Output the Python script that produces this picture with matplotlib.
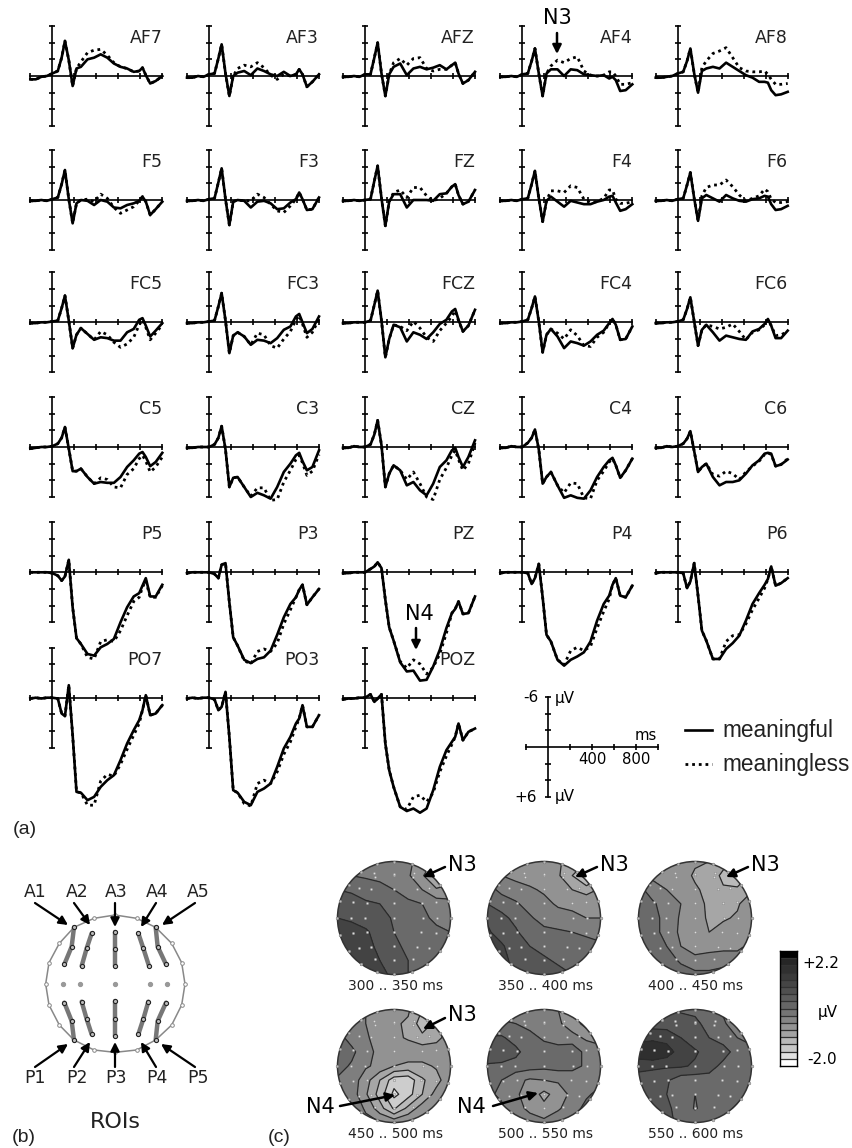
import numpy as np
import matplotlib
matplotlib.use("Agg")
import matplotlib.pyplot as plt
from matplotlib.patches import Circle

# time points (ms) shared by all the ERP curves, values in microvolt (negative up)
times = [-200,-150,-100,-50,0,50,85,115,150,185,220,260,320,380,440,500,560,620,680,740,790,820,850,890,940,1000]

AF7_m = [.4,.4,.1,0,-.3,-.6,-2.2,-4.2,-1.9,1.2,-.9,-1.1,-2.0,-2.2,-2.6,-2.2,-1.5,-1.1,-.9,-.5,-.6,-1.0,-.1,.9,.6,0]
AF7_n = [.4,.4,.1,0,-.3,-.6,-2.2,-4.2,-1.9,1.2,-.9,-1.7,-2.8,-3.1,-3.2,-2.5,-1.6,-1.1,-.9,-.5,-.6,-1.0,-.1,.9,.6,0]
AF3_m = [.2,.2,0,.1,-.2,-.3,-2.1,-3.8,-.3,2.4,0,-.4,-.6,-.1,-.9,-.6,-.2,0,-.5,0,-.2,-.8,-.2,1.3,.7,-.2]
AF3_n = [.2,.2,0,.1,-.2,-.3,-2.1,-3.8,-.3,2.4,0,-.9,-1.3,-1.1,-1.6,-1.0,-.1,.4,-.2,0,-.2,-.8,-.2,1.3,.7,-.2]
AFZ_m = [.1,.1,0,.1,-.2,-.2,-2.2,-4.0,-.3,2.4,-.2,-1.1,-1.5,-.1,-.9,-1.1,-.8,-1.0,-1.3,-.8,-1.3,-1.6,-.3,.9,.5,-.5]
AFZ_n = [.1,.1,0,.1,-.2,-.2,-2.2,-4.0,-.3,2.4,-.2,-1.6,-2.1,-1.3,-2.1,-2.2,-.9,-.6,-.8,-.8,-1.3,-1.6,-.3,.9,.5,-.5]
AF4_m = [.1,.1,0,.1,-.2,-.3,-1.8,-3.3,-.3,2.4,-.3,-.8,-.8,0,-.8,-.7,-.2,-.1,0,-.1,.3,.1,.5,1.8,1.7,1.0]
AF4_n = [.1,.1,0,.1,-.2,-.3,-1.8,-3.3,-.3,2.4,-.3,-1.2,-1.9,-1.6,-2.1,-2.3,-.6,-.1,0,-.1,-.5,-.5,0,1.0,1.0,.8]
AF8_m = [.2,.2,.1,0,-.3,-.5,-1.8,-3.3,-.3,2.0,-.6,-.9,-1.1,-.9,-1.6,-1.1,-.6,-.1,.2,.7,.7,.8,1.7,2.3,2.2,1.9]
AF8_n = [.2,.2,.1,0,-.3,-.5,-1.8,-3.3,-.3,2.0,-1.0,-1.8,-2.7,-3.0,-3.4,-2.2,-1.0,-.6,-.5,-.5,-.6,-.2,.4,1.0,1.0,.9]

F5_m = [.1,.1,0,.1,-.1,-.3,-1.9,-3.6,-.1,2.8,.4,0,.1,.6,0,.2,.9,1.0,.6,.4,.1,-.4,.2,1.8,1.1,.2]
F5_n = [.1,.1,0,.1,-.1,-.3,-1.9,-3.6,-.1,2.8,.4,0,-.1,.2,-.7,-.2,.9,1.6,1.2,.8,.1,-.4,.2,1.8,1.1,.2]
F3_m = [.1,.1,0,.1,-.1,-.2,-2.1,-3.8,-.1,3.0,.2,0,.1,.9,.2,.1,.4,1.1,1.0,.3,-.1,-.9,-.1,1.2,1.1,-.3]
F3_n = [.1,.1,0,.1,-.1,-.2,-2.1,-3.8,-.1,3.0,.2,0,.1,.1,-.7,-.3,.5,1.3,1.5,.7,-.1,-.9,-.1,1.2,1.1,-.3]
FZ_m = [.1,.1,0,.1,0,-.1,-2.3,-4.1,-.2,3.1,.2,-.7,-.7,.9,0,0,0,.1,-.7,-.8,-1.6,-1.9,-.6,.5,.2,-1.2]
FZ_n = [.1,.1,0,.1,0,-.1,-2.3,-4.1,-.2,3.1,.2,-.9,-1.2,-.3,-1.5,-1.5,-.5,.1,-.2,-.8,-1.6,-1.9,-.6,.5,.2,-1.2]
F4_m = [.1,.1,0,.1,-.1,-.2,-1.9,-3.5,-.2,2.6,.1,-.4,.2,.8,.1,.3,.5,.5,.2,0,-.4,-.5,.3,1.3,1.1,.5]
F4_n = [.1,.1,0,.1,-.1,-.2,-1.9,-3.5,-.2,2.6,.1,-1.1,-1.1,-.9,-1.7,-1.5,-.1,.3,.2,-.2,-1.2,-1.2,-.1,.4,.4,.2]
F6_m = [.1,.1,0,.1,-.1,-.2,-1.8,-3.3,-.2,2.5,-.2,-.6,-.2,.2,-.6,-.2,.1,.2,-.1,-.2,-.5,-.4,.5,1.2,1.1,.7]
F6_n = [.1,.1,0,.1,-.1,-.2,-1.8,-3.3,-.2,2.5,-.5,-1.5,-1.8,-1.8,-2.4,-1.6,-.6,.1,-.2,-.5,-1.3,-1.0,-.1,.3,.3,.2]

FC5_m = [.1,.1,0,0,-.1,-.2,-1.7,-3.2,-.2,3.1,1.5,.7,1.4,2.1,1.8,1.9,2.2,2.2,1.2,.8,-.3,-.5,.4,1.7,1.0,.1]
FC5_n = [.1,.1,0,0,-.1,-.2,-1.7,-3.2,-.2,3.1,1.5,.7,1.4,2.1,1.1,1.5,2.4,3.0,2.6,1.8,.3,-.3,.6,2.1,1.3,.3]
FC3_m = [.1,.1,0,0,-.1,-.2,-1.9,-3.5,-.2,3.7,1.6,1.2,1.7,2.7,2.1,2.2,2.5,1.9,.9,.5,-.7,-1.0,0,1.3,.8,-.7]
FC3_n = [.1,.1,0,0,-.1,-.2,-1.9,-3.5,-.2,3.7,1.6,1.2,1.7,2.7,1.3,1.5,2.8,3.1,2.0,1.1,-.3,-.8,.2,1.8,1.2,-.4]
FCZ_m = [.1,.1,0,0,0,-.2,-2.1,-3.8,-.2,4.2,2.0,.3,.6,2.3,1.2,1.5,2.0,1.2,.2,-.3,-1.3,-1.6,-.3,1.1,.4,-1.5]
FCZ_n = [.1,.1,0,0,0,-.2,-2.1,-3.8,-.2,4.2,2.0,.3,.5,1.0,-.1,.7,1.8,2.3,1.0,.1,-.7,-1.4,-.2,1.1,.4,-1.5]
FC4_m = [.1,.1,0,0,-.1,-.3,-1.7,-3.1,-.1,3.6,1.5,.8,1.7,3.1,2.3,2.5,2.8,2.3,1.5,1.0,.1,-.4,.3,2.1,2.0,.5]
FC4_n = [.1,.1,0,0,-.1,-.3,-1.7,-3.1,-.1,3.6,1.5,.8,1.3,2.0,.9,1.6,2.8,2.9,1.8,1.2,.1,-.4,.3,2.1,2.0,.5]
FC6_m = [.1,.1,0,0,-.1,-.3,-1.6,-3.0,-.1,2.8,.9,.3,1.2,2.2,1.6,1.8,2.0,2.1,1.1,.8,.2,-.4,.4,1.9,1.9,1.0]
FC6_n = [.1,.1,0,0,-.1,-.3,-1.6,-3.0,-.1,2.8,.9,.3,.5,.8,.6,.2,1.1,2.1,1.2,.9,.3,-.3,.4,1.6,1.5,1.1]

C5_m = [.2,.1,0,0,-.1,-.4,-1.1,-2.4,.2,2.9,2.9,2.6,3.6,4.4,4.2,4.3,4.3,3.6,2.4,1.6,.8,.6,1.2,2.3,1.8,.7]
C5_n = [.2,.1,0,0,-.1,-.4,-1.1,-2.4,.2,2.9,2.9,2.6,3.6,4.4,3.7,3.9,4.8,4.9,3.3,2.6,1.4,1.0,1.7,3.0,2.4,1.2]
C3_m = [.1,.1,0,0,0,-.3,-1.1,-2.5,.3,4.8,3.7,3.6,4.8,6.0,5.5,5.8,6.2,4.8,3.0,2.0,1.0,.7,1.7,2.8,2.4,.4]
C3_n = [.1,.1,0,0,0,-.3,-1.1,-2.5,.3,4.8,3.7,3.6,4.8,5.9,4.9,4.9,6.4,6.3,4.2,2.8,1.5,1.0,1.9,3.4,2.9,.9]
CZ_m = [.1,.1,-.1,0,0,-.3,-1.5,-3.2,-.2,4.8,3.2,2.2,2.8,4.6,4.2,5.2,5.8,4.4,2.4,1.6,.4,.1,1.2,2.4,1.2,-.8]
CZ_n = [.1,.1,-.1,0,0,-.3,-1.5,-3.2,-.2,4.8,3.2,2.2,2.8,3.9,3.0,4.4,6.0,6.3,3.9,2.5,1.0,.4,1.5,2.8,2.0,-.5]
C4_m = [.1,.1,-.1,0,0,-.5,-1.1,-2.1,.3,4.4,3.6,3.0,4.6,6.1,5.8,6.1,6.2,5.2,3.6,2.4,1.6,1.3,2.2,3.7,2.8,1.4]
C4_n = [.1,.1,-.1,0,0,-.5,-1.1,-2.1,.3,4.4,3.6,3.0,4.6,5.5,4.3,4.4,6.1,6.2,4.0,2.9,1.8,1.4,2.2,3.7,2.8,1.4]
C6_m = [.1,.1,-.1,0,-.1,-.4,-1.0,-1.9,.5,3.0,2.4,2.0,3.6,4.6,4.2,4.2,4.0,3.2,2.2,1.6,.8,.7,.8,2.3,2.1,1.5]
C6_n = [.1,.1,-.1,0,-.1,-.4,-1.0,-1.9,.5,3.0,2.4,2.0,3.3,3.5,2.9,3.2,3.9,3.0,2.3,1.7,.9,.7,.9,2.3,2.1,1.4]

P5_m = [0,0,0,0,.1,.4,1.0,.5,-1.5,4.2,7.9,8.6,9.8,10.0,9.0,8.6,8.0,6.0,4.2,2.9,2.5,1.6,.7,2.9,2.9,1.5]
P5_n = [0,0,0,0,.1,.4,1.0,.5,-1.5,4.2,7.9,8.6,10.2,10.4,8.3,8.1,8.3,7.0,5.2,3.5,3.0,1.8,1.0,3.0,3.0,1.6]
P3_m = [.1,0,0,0,0,.2,.7,-.9,-1.1,3.6,7.8,8.8,10.5,10.9,10.4,10.2,9.4,7.5,5.4,3.8,3.0,2.1,1.5,3.9,3.0,2.0]
P3_n = [.1,0,0,0,0,.2,.7,-.9,-1.1,3.6,7.8,8.8,10.6,11.0,9.5,9.2,9.5,8.5,6.2,4.5,3.0,2.1,1.5,3.9,3.0,2.0]
PZ_m = [.1,.1,0,0,0,-.4,-.7,-1.2,-.5,3.3,6.6,8.2,10.8,11.9,11.8,13.0,12.9,11.3,9.3,6.7,4.9,4.4,3.5,5.0,4.9,2.9]
PZ_n = [.1,.1,0,0,0,-.4,-.7,-1.2,-.5,3.3,6.6,8.2,10.7,11.5,10.5,11.0,12.2,11.4,9.8,7.3,4.9,4.4,3.5,5.0,4.9,2.9]
P4_m = [.1,0,0,0,0,.1,1.4,.7,-1.0,3.0,7.5,8.3,10.5,11.2,10.5,10.1,9.6,8.3,5.8,3.8,2.8,1.5,.7,2.8,3.0,1.6]
P4_n = [.1,0,0,0,0,.1,1.4,.7,-1.0,3.0,7.5,8.3,10.5,11.1,9.4,9.0,9.4,8.9,6.7,4.7,3.2,1.5,.7,2.8,3.0,1.6]
P6_m = [.1,0,0,0,0,.1,1.9,1.1,-1.1,2.8,7.0,8.2,10.4,10.4,9.2,8.5,7.6,5.8,3.8,2.5,1.5,.8,-.7,1.6,1.3,.7]
P6_n = [.1,0,0,0,0,.1,1.9,1.1,-1.1,2.8,7.0,8.2,10.4,10.4,8.3,7.6,7.5,6.2,4.5,3.1,1.9,.8,-.7,1.6,1.3,.7]

PO7_m = [.1,0,.1,0,0,.1,1.9,2.2,-1.5,4.5,11.3,11.4,12.3,11.9,10.7,9.9,9.3,7.5,5.5,3.9,2.7,1.5,-.3,2.1,1.9,.9]
PO7_n = [.1,0,.1,0,0,.1,1.9,2.2,-1.5,4.5,11.3,11.4,12.9,12.9,10.0,9.2,9.4,8.0,6.2,4.5,3.1,1.5,-.3,2.1,1.9,.9]
PO3_m = [.1,0,.1,0,0,.2,1.5,1.1,-.7,4.7,11.1,11.4,12.5,12.9,11.3,10.9,10.3,8.3,6.1,4.7,3.1,2.5,.9,3.5,3.5,2.1]
PO3_n = [.1,0,.1,0,0,.2,1.5,1.1,-.7,4.7,11.1,11.4,12.7,13.0,10.3,9.9,10.3,8.9,6.8,5.3,3.5,2.5,.9,3.5,3.5,2.1]
POZ_m = [.2,.1,.1,0,0,-.4,.5,.1,-.4,5.5,8.7,10.7,13.1,13.6,13.3,13.8,13.3,11.1,8.3,6.3,5.3,4.7,3.1,5.1,4.1,3.7]
POZ_n = [.2,.1,.1,0,0,-.4,.5,.1,-.4,5.5,8.7,10.7,13.1,13.4,11.9,11.7,12.5,11.4,8.9,7.0,5.6,4.7,3.1,5.1,4.1,3.7]

# topographies, 9x9 grid from top (anterior) to bottom, in microvolt
map_300 = [[.3,.3,.3,.3,.3,.2,-.1,-.3,-.3],
           [.5,.45,.4,.33,.25,.15,-.2,-.7,-.5],
           [.8,.75,.65,.6,.45,.35,.1,-.2,-.1],
           [.98,.95,.85,.8,.6,.5,.45,.3,.2],
           [1.15,1.05,1.0,.95,.75,.55,.5,.4,.3],
           [1.4,1.4,1.2,1.0,.8,.6,.55,.5,.45],
           [1.35,1.45,1.35,1.0,.85,.75,.6,.55,.5],
           [1.2,1.3,1.4,1.15,.95,.8,.6,.5,.45],
           [1.2,1.3,1.4,1.4,.95,.8,.7,.55,.5]]
map_350 = [[0,0,0,0,-.1,-.2,-.4,-.6,-.5],
           [.2,.1,0,-.05,-.1,-.2,-.6,-1.1,-.7],
           [.6,.35,.25,.15,.05,-.05,-.25,-.4,-.2],
           [.8,.65,.5,.3,.2,.05,.05,.02,.05],
           [1.1,.9,.7,.5,.3,.25,.15,.1,.1],
           [1.2,1.0,.85,.6,.55,.5,.45,.4,.35],
           [1.3,1.2,.95,.8,.7,.6,.6,.55,.5],
           [1.3,1.25,1.05,1.0,.85,.75,.6,.7,.7],
           [1.3,1.25,1.1,1.05,1.0,.9,.8,.7,.7]]
map_400 = [[-.05,-.05,-.1,-.15,-.2,-.25,-.45,-.6,-.5],
           [.1,0,-.05,-.1,-.3,-.35,-.7,-1.0,-.5],
           [.55,.3,.1,.05,-.2,-.35,-.55,-.5,-.3],
           [.75,.5,.3,.1,-.15,-.3,-.3,-.3,0],
           [.6,.55,.35,.05,-.1,-.3,-.3,-.2,.05],
           [.5,.55,.35,.02,-.05,-.25,-.1,.05,.1],
           [.6,.6,.45,.1,-.05,.02,0,.05,.15],
           [.7,.7,.6,.4,.2,.2,.3,.2,.2],
           [.7,.7,.7,.6,.55,.55,.6,.4,.3]]
map_450 = [[.2,.2,.1,0,-.1,-.2,-.6,-.3,-.1],
           [.3,.2,.1,-.15,-.2,-.3,-.8,-.5,-.05],
           [.6,.3,.15,-.05,-.15,-.3,-.5,-.4,0],
           [.7,.55,.2,.02,-.15,0,0,.03,.05],
           [.6,.4,.15,0,-.25,-.35,-.35,-.2,.05],
           [.4,.3,-.1,-.6,-1.15,-1.2,-.65,-.4,.05],
           [.35,.3,-.2,-.75,-1.4,-1.1,-.6,-.1,.05],
           [.4,.35,.05,-.45,-1.0,-.5,-.05,.1,.15],
           [.4,.35,.2,.1,0,.1,.15,.2,.2]]
map_500 = [[.3,.3,.3,.25,.15,.1,-.1,-.3,-.3],
           [.5,.5,.45,.35,.25,.15,-.05,-.4,-.3],
           [.85,.85,.65,.55,.4,.25,.2,.05,0],
           [1.05,1.1,.9,.6,.6,.65,.75,.3,.2],
           [.75,.7,.65,.6,.55,.6,.55,.4,.3],
           [.55,.45,.2,.05,.1,.15,.25,.3,.35],
           [.5,.4,.15,-.05,-.35,-.1,.2,.4,.55],
           [.55,.5,.25,0,-.15,.05,.3,.55,.7],
           [.55,.5,.4,.3,.2,.35,.5,.6,.7]]
map_550 = [[.8,.8,.8,.75,.7,.6,.4,.2,.2],
           [1.0,1.0,1.0,.95,.9,.65,.5,.25,.2],
           [1.4,1.4,1.35,1.15,.95,.8,.65,.45,.4],
           [1.7,1.85,1.7,1.3,1.2,1.0,.95,.65,.5],
           [1.3,1.25,1.2,1.2,1.1,.95,.7,.6,.5],
           [.95,.9,.85,.6,.6,.65,.7,.7,.7],
           [.9,.9,.8,.6,.45,.55,.65,.7,.85],
           [.9,.9,.85,.7,.42,.6,.7,.85,.9],
           [.9,.9,.85,.75,.7,.75,.8,.9,.9]]
map_labels = ["300 .. 350 ms", "350 .. 400 ms", "400 .. 450 ms",
              "450 .. 500 ms", "500 .. 550 ms", "550 .. 600 ms"]
levels = [-2.0,-1.65,-1.3,-.95,-.6,-.25,.1,.45,.8,1.15,1.5,1.85,2.2]

# electrodes of the ROI sketch, zoom coordinates around the head centre
roi_lines = [[(-123,170),(-130,112),(-152,59)], [(-70,152),(-85,107),(-100,54)], [(0,157),(0,105),(0,54)],
             [(70,152),(85,107),(102,54)], [(122,170),(128,112),(153,59)],
             [(-152,-56),(-130,-111),(-123,-168)], [(-100,-53),(-85,-105),(-70,-151)], [(0,-52),(0,-104),(0,-156)],
             [(100,-53),(85,-105),(70,-151)], [(153,-56),(128,-111),(122,-168)]]
mid_row = [-157,-105,0,105,157]
rim = [(-63,197),(0,207),(65,197),(122,170),(170,122),(200,64),(210,0),(200,-63),(170,-123),(122,-168),
       (65,-198),(0,-205),(-63,-198),(-123,-168),(-167,-123),(-198,-63),(-208,0),(-198,64),(-167,122),(-123,170)]
head_r = 208.0


def px_axes(fig, x0, y0, x1, y1):
    W, H = fig.get_size_inches() * fig.dpi
    return fig.add_axes([x0 / W, 1 - y1 / H, (x1 - x0) / W, (y1 - y0) / H])


def erp_axes(fig, xc, yc):
    ax = px_axes(fig, xc - 22, yc - 50, xc + 110, yc + 50)
    ax.set_xlim(-200, 1000)
    ax.set_ylim(6, -6)
    ax.patch.set_alpha(0)
    for s in ["top", "right"]:
        ax.spines[s].set_visible(False)
    ax.spines["left"].set_position(("data", 0))
    ax.spines["bottom"].set_position(("data", 0))
    ax.spines["left"].set_linewidth(1.2)
    ax.spines["bottom"].set_linewidth(1.2)
    ax.set_xticks([-200, 200, 400, 600, 800, 1000])
    ax.set_yticks([-6, -4, -2, 2, 4, 6])
    ax.set_xticklabels([])
    ax.set_yticklabels([])
    ax.tick_params(direction="inout", length=5, width=1.2)
    return ax


fig = plt.figure(figsize=(8.52, 11.48), dpi=100)
fig.patch.set_facecolor("white")

columns = [52.3, 209, 365, 522.3, 677.7]
rows = [76, 200, 322.3, 447, 572.3, 697.7]
panels = [("AF7",0,0,AF7_m,AF7_n),("AF3",1,0,AF3_m,AF3_n),("AFZ",2,0,AFZ_m,AFZ_n),("AF4",3,0,AF4_m,AF4_n),("AF8",4,0,AF8_m,AF8_n),
          ("F5",0,1,F5_m,F5_n),("F3",1,1,F3_m,F3_n),("FZ",2,1,FZ_m,FZ_n),("F4",3,1,F4_m,F4_n),("F6",4,1,F6_m,F6_n),
          ("FC5",0,2,FC5_m,FC5_n),("FC3",1,2,FC3_m,FC3_n),("FCZ",2,2,FCZ_m,FCZ_n),("FC4",3,2,FC4_m,FC4_n),("FC6",4,2,FC6_m,FC6_n),
          ("C5",0,3,C5_m,C5_n),("C3",1,3,C3_m,C3_n),("CZ",2,3,CZ_m,CZ_n),("C4",3,3,C4_m,C4_n),("C6",4,3,C6_m,C6_n),
          ("P5",0,4,P5_m,P5_n),("P3",1,4,P3_m,P3_n),("PZ",2,4,PZ_m,PZ_n),("P4",3,4,P4_m,P4_n),("P6",4,4,P6_m,P6_n),
          ("PO7",0,5,PO7_m,PO7_n),("PO3",1,5,PO3_m,PO3_n),("POZ",2,5,POZ_m,POZ_n)]

for name, c, r, mean, less in panels:
    ax = erp_axes(fig, columns[c], rows[r])
    ax.plot(times, less, color="black", lw=2.0, ls=(0, (1, 1.4)), clip_on=False)
    ax.plot(times, mean, color="black", lw=1.9, clip_on=False, solid_joinstyle="round")
    ax.text(1000, -3.95, name, ha="right", va="baseline", fontsize=12.5, color="#222222")

# scale axes
ax = erp_axes(fig, 548, 747)
ax.set_xlim(-200, 1000)

# overlay in pixel coordinates for the labels, arrows and legend
ov = fig.add_axes([0, 0, 1, 1], zorder=10)
ov.set_xlim(0, 852)
ov.set_ylim(1148, 0)
ov.axis("off")


def arrow(x0, y0, x1, y1, lw=1.8):
    ov.annotate("", xy=(x1, y1), xytext=(x0, y0),
                arrowprops=dict(arrowstyle="-|>", color="black", lw=lw, mutation_scale=13, shrinkA=0, shrinkB=0))


ov.text(538, 698, "-6", ha="right", va="center", fontsize=11)
ov.text(537, 797, "+6", ha="right", va="center", fontsize=11)
ov.text(555, 698, "µV", ha="left", va="center", fontsize=11)
ov.text(555, 797, "µV", ha="left", va="center", fontsize=11)
ov.text(592, 760, "400", ha="center", va="center", fontsize=10.7)
ov.text(636, 760, "800", ha="center", va="center", fontsize=10.7)
ov.text(657, 735, "ms", ha="right", va="center", fontsize=10.7)
ov.plot([685, 712], [730, 730], color="black", lw=1.9)
ov.plot([685, 712], [764, 764], color="black", lw=2.0, ls=(0, (1, 1.4)))
ov.text(722, 731, "meaningful", ha="left", va="center", fontsize=16.3, family="Liberation Sans", color="#222222")
ov.text(722, 765, "meaningless", ha="left", va="center", fontsize=16.3, family="Liberation Sans", color="#222222")

ov.text(557, 18, "N3", ha="center", va="center", fontsize=15)
arrow(557, 33, 557, 54)
ov.text(419, 614, "N4", ha="center", va="center", fontsize=15)
arrow(416, 628, 416, 650)

for s, x, y in [("(a)", 13, 829), ("(b)", 12, 1137), ("(c)", 268, 1137)]:
    ov.text(x, y, s, ha="left", va="center", fontsize=14, family="Liberation Sans", color="#222222")

# panel b, head centre at (115, 984), one zoom unit is a third of a pixel
hx, hy = 115, 984
rx = [hx + p[0] / 3 for p in rim] + [hx + rim[0][0] / 3]
ry = [hy - p[1] / 3 for p in rim] + [hy - rim[0][1] / 3]
ov.plot(rx, ry, color="#888888", lw=1.1)
ov.plot(rx[:-1], ry[:-1], ls="none", marker="o", ms=2.6, mfc="white", mec="#888888", mew=0.7)
for line in roi_lines:
    lx = [hx + p[0] / 3 for p in line]
    ly = [hy - p[1] / 3 for p in line]
    ov.plot(lx, ly, color="#777777", lw=3.2, solid_capstyle="round")
    ov.plot(lx, ly, ls="none", marker="o", ms=3, mfc="#bbbbbb", mec="#222222", mew=0.8)
ov.plot([hx + m / 3 for m in mid_row], [hy] * 5, ls="none", marker="o", ms=2.8, color="#999999")

top_names = ["A1", "A2", "A3", "A4", "A5"]
bot_names = ["P1", "P2", "P3", "P4", "P5"]
name_x = [35, 77, 116, 157, 198]
arrow_from = [35, 74, 115, 156, 195]
arrow_top_to = [(68, 925), (90, 925), (115, 927), (141, 927), (162, 925)]
arrow_bot_to = [(68, 1044), (90, 1042), (115, 1042), (141, 1042), (161, 1044)]
for i in range(5):
    ov.text(name_x[i], 892, top_names[i], ha="center", va="center", fontsize=12.4, color="#222222")
    ov.text(name_x[i], 1078, bot_names[i], ha="center", va="center", fontsize=12.4, color="#222222")
    arrow(arrow_from[i], 903, arrow_top_to[i][0], arrow_top_to[i][1], lw=1.6)
    arrow(arrow_from[i], 1067, arrow_bot_to[i][0], arrow_bot_to[i][1], lw=1.6)
ov.text(115, 1122, "ROIs", ha="center", va="center", fontsize=16, color="#222222")

# panel c
grid = np.linspace(-1, 1, 9)
map_data = [map_300, map_350, map_400, map_450, map_500, map_550]
map_cx = [394, 544, 695, 394, 544, 695]
map_cy = [918, 918, 918, 1066, 1066, 1066]
map_r = 56.5
fills = [str((2.5 - (levels[i] + levels[i + 1]) / 2) / 4.5) for i in range(len(levels) - 1)]

dots = [(x / head_r, y / head_r) for line in roi_lines for x, y in line] + [(m / head_r, 0) for m in mid_row]
dots += [(0, .78), (-.35, .8), (.35, .8)]

for i in range(6):
    cx, cy = map_cx[i], map_cy[i]
    ax = px_axes(fig, cx - map_r - 2, cy - map_r - 2, cx + map_r + 2, cy + map_r + 2)
    ax.set_xlim(-1.035, 1.035)
    ax.set_ylim(-1.035, 1.035)
    ax.axis("off")
    z = np.array(map_data[i])[::-1]
    cf = ax.contourf(grid, grid, z, levels=levels, colors=fills)
    cl = ax.contour(grid, grid, z, levels=levels, colors="#2a2a2a", linewidths=0.9, linestyles="solid")
    clip = Circle((0, 0), 1.0, transform=ax.transData)
    cf.set_clip_path(clip)
    cl.set_clip_path(clip)
    ax.add_patch(Circle((0, 0), 1.0, fill=False, ec="#333333", lw=1.1))
    ax.plot([p[0] for p in dots], [p[1] for p in dots], ls="none", marker="o", ms=1.8,
            mfc="#dddddd", mec="#777777", mew=0.3)
    ax.plot([p[0] / head_r for p in rim], [p[1] / head_r for p in rim], ls="none", marker="o", ms=2,
            mfc="#bbbbbb", mec="#666666", mew=0.3, clip_on=False)
    ov.text(cx + 1, cy + 68, map_labels[i], ha="center", va="center", fontsize=10, color="#222222")

for x0, xt, y0, y1, yt in [(445, 448, 867, 877, 865), (597, 600, 867, 877, 865), (748, 751, 867, 877, 865), (445, 448, 1018, 1029, 1015)]:
    ov.text(xt, yt, "N3", ha="left", va="center", fontsize=15)
    arrow(x0, y0, x0 - 22, y1)
ov.text(335, 1107, "N4", ha="right", va="center", fontsize=15)
arrow(340, 1106, 395, 1095)
ov.text(486, 1107, "N4", ha="right", va="center", fontsize=15)
arrow(493, 1106, 538, 1093)

# colour bar
bar_levels = np.arange(17)
bar_grays = [[g] for g in [1.0, .88, .78, .72, .64, .58, .52, .46, .40, .36, .31, .27, .23, .19, .15, .0]]
cax = px_axes(fig, 780, 951, 797, 1066)
cax.pcolormesh([0, 1], bar_levels, bar_grays, cmap="gray", vmin=0, vmax=1)
cax.hlines(bar_levels[1:-1], 0, 1, color="#333333", lw=0.9)
cax.set_xticks([])
cax.set_yticks([])
for s in cax.spines.values():
    s.set_linewidth(1.0)
ov.text(802, 964, "+2.2", ha="left", va="center", fontsize=11)
ov.text(818, 1013, "µV", ha="left", va="center", fontsize=11)
ov.text(807, 1060, "-2.0", ha="left", va="center", fontsize=11)

fig.savefig("out.png", dpi=100)
